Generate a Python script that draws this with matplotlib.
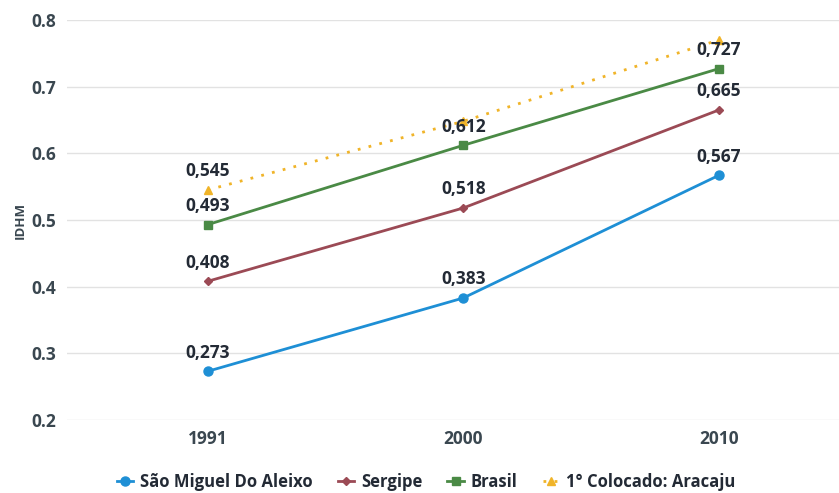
import matplotlib
matplotlib.use("Agg")
import matplotlib.pyplot as plt

years = ["1991", "2000", "2010"]
sao_miguel = [0.273, 0.383, 0.567]
sergipe = [0.408, 0.518, 0.665]
brasil = [0.493, 0.612, 0.727]
aracaju = [0.545, 0.648, 0.770]

series_names = ["São Miguel Do Aleixo", "Sergipe", "Brasil", "1° Colocado: Aracaju"]
yticks = [0.2, 0.3, 0.4, 0.5, 0.6, 0.7, 0.8]

plt.rcParams['font.family'] = ['Open Sans', 'DejaVu Sans']

fig = plt.figure(figsize=(8.39, 4.93), dpi=100)
ax = fig.add_axes([67/839, 1 - 420/493, 1 - 67/839, 400/493])

x = list(range(len(years)))
txt = "#232a35"

ax.plot(x, aracaju, color="#f0b429", linestyle=(0, (1, 3)), linewidth=2,
        marker="^", markersize=6, label=series_names[3], zorder=2)
ax.plot(x, brasil, color="#4a8a45", linewidth=2, marker="s", markersize=6,
        label=series_names[2], zorder=3)
ax.plot(x, sergipe, color="#9b4a55", linewidth=2, marker="D", markersize=4.5,
        label=series_names[1], zorder=3)
ax.plot(x, sao_miguel, color="#1e8fd5", linewidth=2, marker="o", markersize=6.5,
        label=series_names[0], zorder=3)

def fmt(v):
    return f"{v:.3f}".replace(".", ",")

for vals in (sao_miguel, sergipe, brasil):
    for xi, v in zip(x, vals):
        ax.annotate(fmt(v), (xi, v), xytext=(0, 7), textcoords="offset points",
                    ha="center", va="bottom", fontsize=12.5, fontweight="bold",
                    color=txt, zorder=5)
ax.annotate(fmt(aracaju[0]), (x[0], aracaju[0]), xytext=(0, 7), textcoords="offset points",
            ha="center", va="bottom", fontsize=12.5, fontweight="bold", color=txt, zorder=5)

ax.set_xlim(-0.55, 2.47)
ax.set_ylim(0.2, 0.8)
ax.set_yticks(yticks)
ax.set_yticklabels([f"{t:.1f}" for t in yticks])
ax.set_xticks(x)
ax.set_xticklabels(years)
ax.tick_params(axis="both", length=0, labelsize=12.5, labelcolor="#3a4750")
for lab in ax.get_xticklabels() + ax.get_yticklabels():
    lab.set_fontweight("bold")
ax.tick_params(axis="x", pad=7)
ax.tick_params(axis="y", pad=8)
ax.grid(axis="y", color="#e2e2e2", linewidth=1)
ax.set_axisbelow(True)
for s in ax.spines.values():
    s.set_visible(False)
ax.set_ylabel("IDHM", fontsize=9.5, fontweight="bold", color="#3a4750", labelpad=3)

handles, labels = ax.get_legend_handles_labels()
order = [3, 2, 1, 0]
leg = fig.legend([handles[i] for i in order], [labels[i] for i in order],
                 loc="center", bbox_to_anchor=(426/839, 1 - 482/493), ncol=4,
                 frameon=False, fontsize=12, handlelength=1.0, columnspacing=1.5,
                 handletextpad=0.4)
for t in leg.get_texts():
    t.set_fontweight("bold")
    t.set_color(txt)

fig.savefig("out.png", dpi=100, facecolor="white")
